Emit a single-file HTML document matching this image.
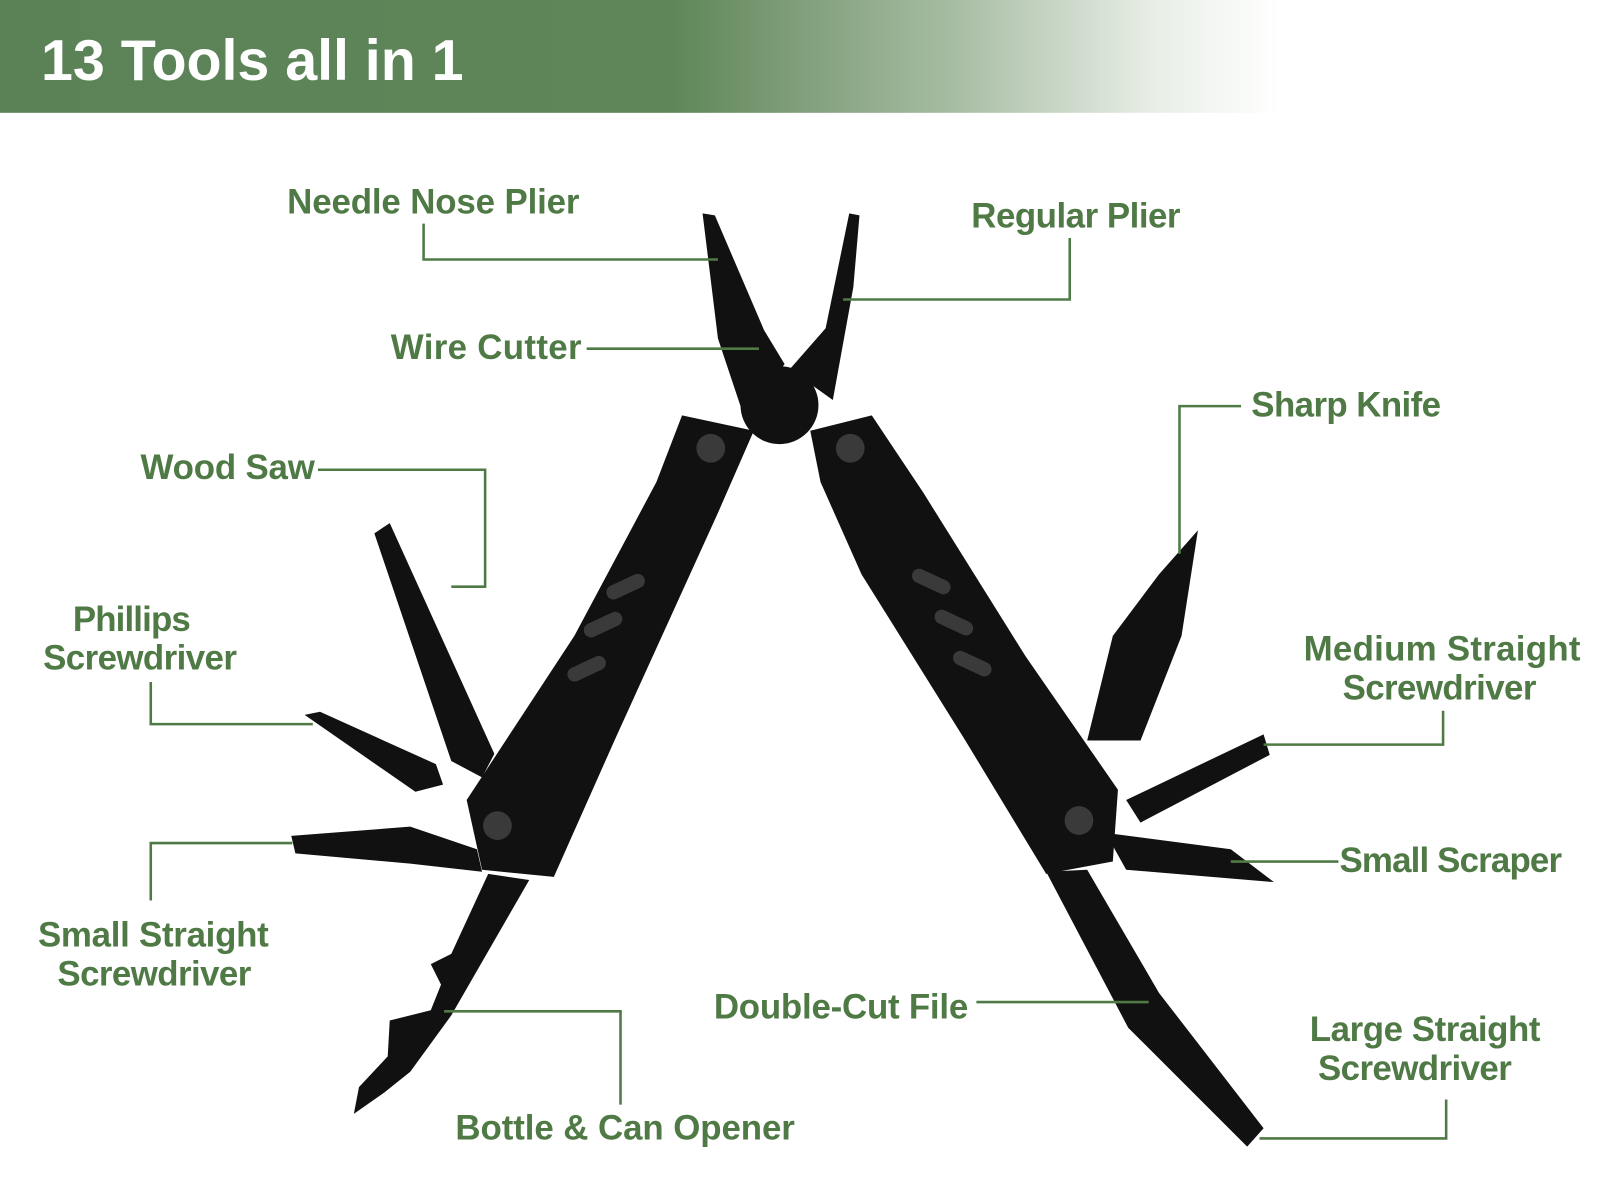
<!DOCTYPE html>
<html><head><meta charset="utf-8"><style>html,body{margin:0;padding:0;background:#fff}svg{display:block}</style></head>
<body>
<svg width="1600" height="1200" viewBox="0 0 1560 1170" xmlns="http://www.w3.org/2000/svg">
<defs><linearGradient id="g" x1="0" x2="1" y1="0" y2="0">
<stop offset="0" stop-color="#5b8257"/><stop offset="0.42" stop-color="#5f8659"/><stop offset="0.6" stop-color="#a9bea5"/><stop offset="0.72" stop-color="#e8eee6"/><stop offset="0.8" stop-color="#fff"/><stop offset="1" stop-color="#fff"/></linearGradient></defs>
<rect x="0" y="0" width="1560" height="110" fill="url(#g)"/>
<text x="40" y="78" font-family="Liberation Sans, sans-serif" font-weight="bold" font-size="56" fill="#fff" textLength="412">13 Tools all in 1</text>
<g fill="#111">
<polygon points="685,208 697,210 745,322 765,355 725,405 700,330"/>
<polygon points="828,208 838,210 832,280 812,390 770,360 805,320"/>
<circle cx="760" cy="395" r="38"/>
<polygon points="365,520 380,510 482,735 470,758 440,742"/>
<polygon points="297,697 312,694 425,745 432,765 405,772"/>
<polygon points="284,815 400,806 465,828 470,850 400,842 288,832"/>
<polygon points="476,852 516,858 440,990 400,1045 375,1065 345,1086 350,1060 378,1030 380,995 400,990 420,985 430,960 420,940 440,930"/>
<polygon points="665,405 735,420 700,500 600,720 540,855 470,848 455,780 560,620 640,470"/>
<polygon points="790,420 850,405 900,480 1000,640 1090,770 1085,840 1020,852 940,720 840,560 800,470"/>
<polygon points="1060,722 1085,620 1130,560 1168,517 1152,620 1112,722"/>
<polygon points="1098,780 1232,716 1238,736 1112,802"/>
<polygon points="1078,812 1200,828 1242,860 1098,848"/>
<polygon points="1020,850 1060,848 1130,968 1232,1100 1216,1118 1100,1002"/>
</g>
<g fill="#3a3a3a">
<rect x="590" y="565" width="40" height="14" rx="7" transform="rotate(-25 610 572)"/>
<rect x="568" y="602" width="40" height="14" rx="7" transform="rotate(-25 588 609)"/>
<rect x="552" y="645" width="40" height="14" rx="7" transform="rotate(-25 572 652)"/>
<rect x="888" y="560" width="40" height="14" rx="7" transform="rotate(25 908 567)"/>
<rect x="910" y="600" width="40" height="14" rx="7" transform="rotate(25 930 607)"/>
<rect x="928" y="640" width="40" height="14" rx="7" transform="rotate(25 948 647)"/>
<circle cx="693" cy="437" r="14"/><circle cx="829" cy="437" r="14"/>
<circle cx="485" cy="805" r="14"/><circle cx="1052" cy="800" r="14"/>
</g>
<g fill="none" stroke="#4f7a45" stroke-width="2.5">
<polyline points="413,218 413,253 700,253"/>
<polyline points="1043,232 1043,292 822,292"/>
<polyline points="572,340 740,340"/>
<polyline points="310,458 473,458 473,572 440,572"/>
<polyline points="147,665 147,706 305,706"/>
<polyline points="147,878 147,822 285,822"/>
<polyline points="433,986 605,986 605,1077"/>
<polyline points="1210,396 1150,396 1150,540"/>
<polyline points="1407,693 1407,726 1232,726"/>
<polyline points="1305,840 1200,840"/>
<polyline points="952,977 1120,977"/>
<polyline points="1410,1072 1410,1110 1228,1110"/>
</g>
<g font-family="Liberation Sans, sans-serif" font-weight="bold" font-size="34" fill="#4f7a45">
<text x="280" y="208" textLength="285">Needle Nose Plier</text>
<text x="947" y="222" textLength="204">Regular Plier</text>
<text x="381" y="350" textLength="186">Wire Cutter</text>
<text x="137" y="467" textLength="170">Wood Saw</text>
<text x="71" y="615" textLength="115">Phillips</text>
<text x="42" y="653" textLength="189">Screwdriver</text>
<text x="1220" y="406" textLength="185">Sharp Knife</text>
<text x="1271" y="644" textLength="270">Medium Straight</text>
<text x="1309" y="682" textLength="189">Screwdriver</text>
<text x="1306" y="850" textLength="217">Small Scraper</text>
<text x="37" y="923" textLength="225">Small Straight</text>
<text x="56" y="961" textLength="189">Screwdriver</text>
<text x="696" y="993" textLength="248">Double-Cut File</text>
<text x="1277" y="1015" textLength="225">Large Straight</text>
<text x="1285" y="1053" textLength="189">Screwdriver</text>
<text x="444" y="1111" textLength="331">Bottle &amp; Can Opener</text>
</g>
</svg>
</body></html>
